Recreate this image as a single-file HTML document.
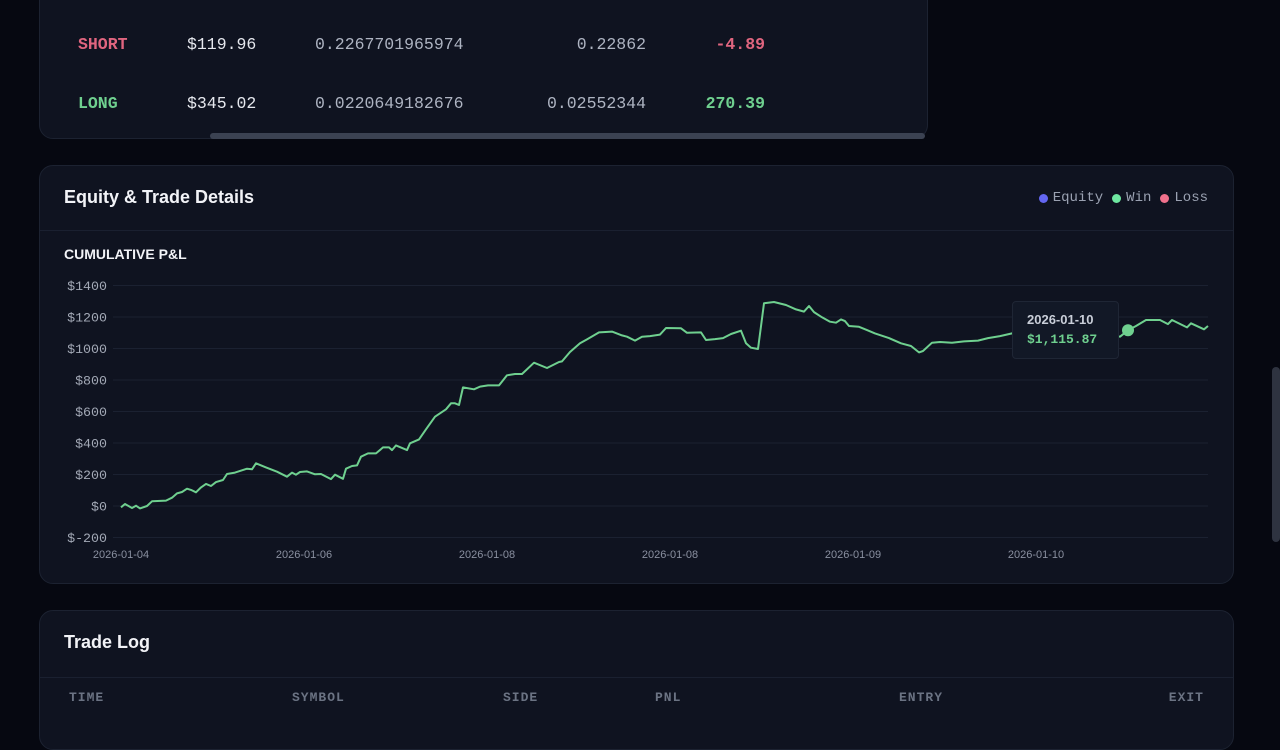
<!DOCTYPE html>
<html><head><meta charset="utf-8"><style>
*{box-sizing:border-box;margin:0;padding:0}
body{width:1280px;height:720px;overflow:hidden;background:#060811;font-family:"Liberation Sans",sans-serif;position:relative;color:#e6e8ee}
.card{position:absolute;background:#0f1320;border:1px solid #1c2231;border-radius:14px}
.mono{font-family:"Liberation Mono",monospace}
.cell{position:absolute;font-size:16.5px;font-family:"Liberation Mono",monospace;color:#aeb4c2}
.th{position:absolute;top:690px;font-size:13px;letter-spacing:1px;color:#6b7383;font-family:"Liberation Mono",monospace;font-weight:bold}
</style></head><body>
<div class="card" style="left:39px;top:-20px;width:889px;height:159px;border-radius:0 0 14px 14px"></div>
<div class="cell" style="left:78px;top:35px;color:#e0657f;font-weight:bold">SHORT</div>
<div class="cell" style="left:187px;top:35px;color:#e6e8ee">$119.96</div>
<div class="cell" style="left:315px;top:35px">0.2267701965974</div>
<div class="cell" style="right:634px;top:35px">0.22862</div>
<div class="cell" style="right:515px;top:35px;color:#e0657f;font-weight:bold">-4.89</div>
<div class="cell" style="left:78px;top:94px;color:#6fd08f;font-weight:bold">LONG</div>
<div class="cell" style="left:187px;top:94px;color:#e6e8ee">$345.02</div>
<div class="cell" style="left:315px;top:94px">0.0220649182676</div>
<div class="cell" style="right:634px;top:94px">0.02552344</div>
<div class="cell" style="right:515px;top:94px;color:#6fd08f;font-weight:bold">270.39</div>
<div style="position:absolute;left:210px;top:133px;width:715px;height:6px;background:#3b4252;border-radius:3px"></div>

<div class="card" style="left:39px;top:165px;width:1195px;height:419px"></div>
<div style="position:absolute;left:64px;top:187px;font-size:18px;font-weight:bold;color:#f2f3f7">Equity &amp; Trade Details</div>
<div style="position:absolute;right:72px;top:190px;font-size:14px;font-family:'Liberation Mono',monospace;color:#9aa1b1;display:flex;align-items:center;gap:5px">
<span style="width:9px;height:9px;border-radius:50%;background:#6366f1"></span><span>Equity</span>
<span style="width:9px;height:9px;border-radius:50%;background:#6ee7a0;margin-left:4px"></span><span>Win</span>
<span style="width:9px;height:9px;border-radius:50%;background:#f0718c;margin-left:4px"></span><span>Loss</span></div>
<div style="position:absolute;left:40px;top:230px;width:1193px;height:1px;background:#1a2030"></div>
<div style="position:absolute;left:64px;top:246px;font-size:14px;font-weight:bold;color:#f2f3f7">CUMULATIVE P&amp;L</div>
<svg id="chart" width="1280" height="720" style="position:absolute;left:0;top:0"></svg>
<div style="position:absolute;left:1012px;top:301px;width:107px;height:58px;background:#121826;border:1px solid #1f2635;border-radius:4px;padding:10px 0 0 14px">
<div style="font-size:13px;font-weight:bold;color:#c9ced8">2026-01-10</div>
<div class="mono" style="font-size:13px;font-weight:bold;color:#6fd08f;margin-top:5px">$1,115.87</div></div>

<div class="card" style="left:39px;top:610px;width:1195px;height:140px"></div>
<div style="position:absolute;left:64px;top:632px;font-size:18px;font-weight:bold;color:#f2f3f7">Trade Log</div>
<div style="position:absolute;left:40px;top:677px;width:1193px;height:1px;background:#1a2030"></div>
<div class="th" style="left:69px">TIME</div>
<div class="th" style="left:292px">SYMBOL</div>
<div class="th" style="left:503px">SIDE</div>
<div class="th" style="left:655px">PNL</div>
<div class="th" style="left:899px">ENTRY</div>
<div class="th" style="right:76px">EXIT</div>
<div style="position:absolute;left:1272px;top:367px;width:8px;height:175px;background:#2e3340;border-radius:4px"></div>
<script>
const tradeTime=[0,4,11,15,19,26,31,45,51,56,61,66,70,75,80,85,90,95,102,106,114,126,131,135,145,156,166,171,175,179,186,194,200,210,214,222,225,231,236,240,247,255,262,268,271,275,286,289,298,305,314,325,330,334,338,342,353,359,367,378,386,394,401,413,426,438,441,449,459,466,478,491,501,506,514,521,529,539,545,560,566,580,585,594,602,610,620,625,630,637,643,653,665,675,683,688,693,701,709,715,720,724,728,738,746,754,768,780,790,798,802,811,819,831,843,857,867,879,891,910,934,958,981,999,1007,1015,1025,1039,1047,1051,1066,1070,1083,1087];
const pnlValues=[-8,13,-13,2,-15,0,30,34,53,80,89,110,102,87,118,140,127,152,165,203,212,237,233,271,245,218,186,212,199,216,220,201,203,171,199,173,237,254,258,313,334,334,372,372,355,385,355,398,423,487,567,614,652,652,641,753,741,758,766,766,830,838,838,910,876,914,918,978,1033,1058,1102,1107,1083,1075,1050,1075,1079,1088,1130,1128,1100,1102,1054,1060,1066,1092,1113,1033,1005,997,1287,1295,1276,1248,1234,1270,1231,1198,1170,1164,1185,1174,1143,1138,1117,1096,1066,1033,1016,975,984,1037,1041,1037,1045,1050,1066,1079,1096,1107,1117,1113,1096,1075,1115.87,1143,1181,1181,1155,1181,1134,1160,1122,1143];
const yTicks=[1400,1200,1000,800,600,400,200,0,-200];
const xTickLabels=["2026-01-04","2026-01-06","2026-01-08","2026-01-08","2026-01-09","2026-01-10"];
const xTickTimes=[0,183,366,549,732,915];
const highlightIndex=124;
const svg=document.getElementById('chart');const NS='http://www.w3.org/2000/svg';
const X=t=>121+(t-0)/(1087-0)*(1208-121);
const Y=v=>506-v*(252/1600);
function mk(tag,attrs){const e=document.createElementNS(NS,tag);for(const k in attrs)e.setAttribute(k,attrs[k]);svg.appendChild(e);return e;}
yTicks.forEach(v=>{
 const g=mk('line',{x1:113,x2:1208,y1:Y(v),y2:Y(v),stroke:'#1b2131','stroke-width':1});
 
 
 const t=mk('text',{x:107,y:Y(v)+4.5,'text-anchor':'end','font-size':13.3,fill:'#a3a9b6','font-family':'Liberation Mono, monospace'});
 t.textContent=v<0?'$-'+Math.abs(v):'$'+v;
 
 
});
xTickLabels.forEach((l,i)=>{
 const t=mk('text',{x:X(xTickTimes[i]),y:558,'text-anchor':'middle','font-size':11,fill:'#8a90a0','font-family':'Liberation Sans, sans-serif'});
 t.textContent=l;
 
 
});
const d=pnlValues.map((v,i)=>(i?'L':'M')+X(tradeTime[i]).toFixed(1)+','+Y(v).toFixed(1)).join('');
const p=mk('path',{d:d,fill:'none',stroke:'#6fd08f','stroke-width':2,'stroke-linejoin':'round'});


const c=mk('circle',{cx:X(tradeTime[highlightIndex]),cy:Y(pnlValues[highlightIndex]),r:6,fill:'#6fd08f'});


</script>
</body></html>
